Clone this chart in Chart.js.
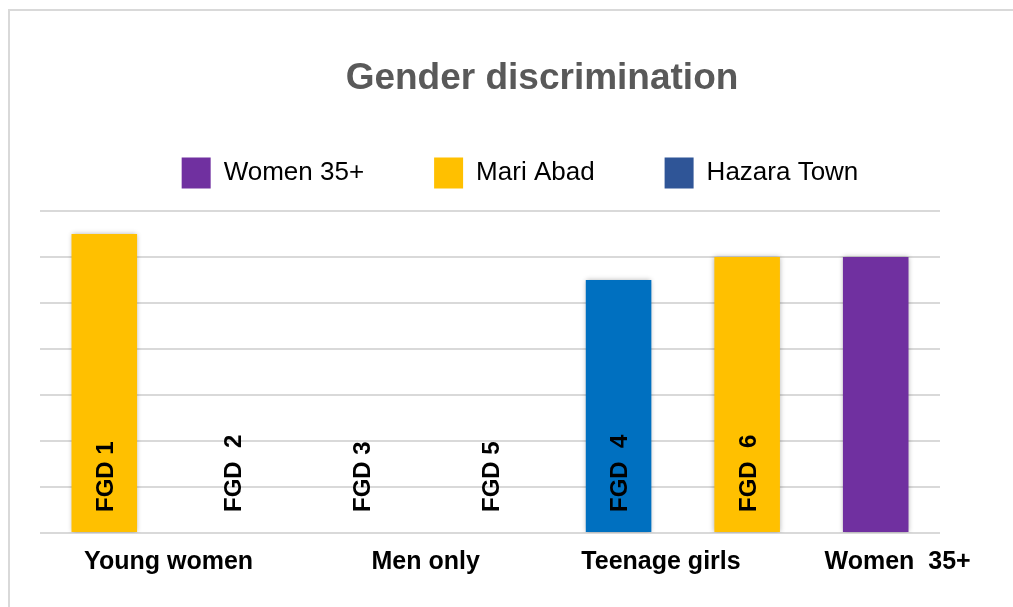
<!DOCTYPE html>
<html lang="en">
<head>
  <meta charset="UTF-8">
  <title>Gender discrimination</title>
  <script src="https://cdn.jsdelivr.net/npm/chart.js"></script>
  <style>
    body { margin: 0; width: 1013px; height: 607px; overflow: hidden; position: relative; background: #fff; }
    .frame { position: absolute; left: 8px; top: 9px; width: 1200px; height: 800px; border: 2px solid #d9d9d9; }
    #chart { position: absolute; left: 0; top: 0; }
  </style>
</head>
<body>
<div class="frame"></div>
<canvas id="chart" width="1084" height="607"></canvas>

<script>
// one slot per focus group, in the order they appear
const slots = ['FGD 1', 'FGD  2', 'FGD 3', 'FGD 5', 'FGD  4', 'FGD  6', ''];
const women35 = [null, null, null, null, null, null, 6];
const mariAbad = [6.5, null, null, null, null, 6, null];
const hazaraTown = [null, 0, 0, 0, 5.5, null, null];

// group labels under the bars, placed on the slot index scale
const groupLabels = ['Young women', 'Men only', 'Teenage girls', 'Women  35+'];
const groupPositions = [0.5, 2.5, 4.33, 6.17];

const seriesNames = ['Women 35+', 'Mari Abad', 'Hazara Town'];
const barColors = ['#7030A0', '#FFC000', '#0070C0'];
const legendColors = ['#7030A0', '#FFC000', '#2F5597'];

const FONT = "'Liberation Sans', Arial, sans-serif";

// FGD names written upwards inside each slot
const slotLabels = {
  id: 'slotLabels',
  afterDatasetsDraw(chart) {
    const ctx = chart.ctx;
    const x = chart.scales.x;
    const y0 = chart.scales.y.getPixelForValue(0);
    ctx.save();
    ctx.font = 'bold 24px ' + FONT;
    ctx.fillStyle = '#000';
    ctx.textAlign = 'left';
    ctx.textBaseline = 'middle';
    slots.forEach((s, i) => {
      if (!s) return;
      ctx.save();
      ctx.translate(x.getPixelForValue(i) + 2, y0 - 21);
      ctx.rotate(-Math.PI / 2);
      ctx.fillText(s, 0, 0);
      ctx.restore();
    });
    ctx.restore();
  }
};

// soft shadow like the office chart
const barShadow = {
  id: 'barShadow',
  beforeDatasetsDraw(chart) {
    const ctx = chart.ctx;
    ctx.save();
    ctx.shadowColor = 'rgba(0,0,0,0.3)';
    ctx.shadowBlur = 5;
  },
  afterDatasetsDraw(chart) {
    chart.ctx.restore();
  }
};

// legend sits a little left of the title
const legendShift = {
  id: 'legendShift',
  afterLayout(chart) {
    chart.legend.left -= 22;
    chart.legend.right -= 22;
  }
};

new Chart(document.getElementById('chart'), {
  type: 'bar',
  data: {
    labels: slots,
    datasets: [
      { label: seriesNames[0], data: women35, backgroundColor: barColors[0] },
      { label: seriesNames[1], data: mariAbad, backgroundColor: barColors[1] },
      { label: seriesNames[2], data: hazaraTown, backgroundColor: barColors[2] }
    ]
  },
  options: {
    responsive: false,
    animation: false,
    skipNull: true,
    categoryPercentage: 1,
    barPercentage: 0.51,
    layout: { padding: 0 },
    plugins: {
      title: {
        display: true,
        text: 'Gender discrimination',
        color: '#595959',
        font: { family: FONT, size: 37, weight: 'bold', lineHeight: 1 },
        padding: { top: 60, bottom: -9.5 }
      },
      legend: {
        display: true,
        labels: {
          color: '#000',
          font: { family: FONT, size: 26 },
          boxWidth: 29,
          boxHeight: 31,
          padding: 70,
          generateLabels(chart) {
            const items = Chart.defaults.plugins.legend.labels.generateLabels(chart);
            items.forEach((it, i) => {
              it.fillStyle = legendColors[i];
              it.strokeStyle = legendColors[i];
              it.lineWidth = 0;
            });
            return items;
          }
        }
      },
      tooltip: { enabled: false }
    },
    scales: {
      x: {
        type: 'category',
        position: 'top',
        display: true,
        grid: { display: false, drawTicks: false },
        border: { display: false },
        ticks: { display: false },
        afterFit(s) { s.height = 12.5; }
      },
      x2: {
        type: 'linear',
        position: 'bottom',
        min: -0.5,
        max: 6.5,
        offset: false,
        grid: { display: false, drawTicks: false },
        border: { display: false },
        afterBuildTicks(s) { s.ticks = groupPositions.map(v => ({ value: v })); },
        afterFit(s) { s.height = 74; },
        ticks: {
          autoSkip: false,
          maxRotation: 0,
          padding: 14,
          color: '#000',
          font: { family: FONT, size: 25, weight: 'bold' },
          callback: (v, i) => groupLabels[i]
        }
      },
      y: {
        min: 0,
        max: 7,
        position: 'left',
        grid: { color: '#d9d9d9', lineWidth: 2, drawTicks: false },
        border: { display: false },
        ticks: { display: false, stepSize: 1 },
        afterFit(s) { s.width = 40; }
      },
      y2: {
        position: 'right',
        min: 0,
        max: 7,
        grid: { display: false, drawTicks: false },
        border: { display: false },
        ticks: { display: false },
        afterFit(s) { s.width = 144; }
      }
    }
  },
  plugins: [barShadow, slotLabels, legendShift]
});
</script>
</body>
</html>
